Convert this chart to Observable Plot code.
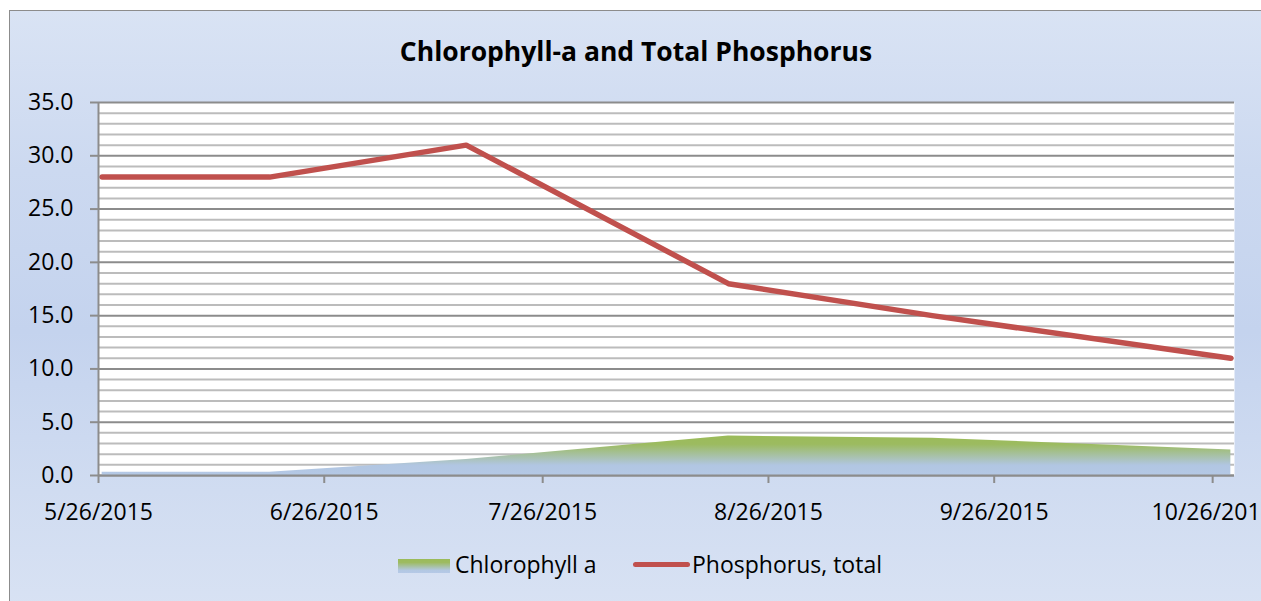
<!DOCTYPE html>
<html>
<head>
<meta charset="utf-8">
<script src="https://cdn.jsdelivr.net/npm/d3@7"></script>
<script src="https://cdn.jsdelivr.net/npm/@observablehq/plot@0.6"></script>
<style>
  html, body { margin: 0; padding: 0; width: 1261px; height: 601px; overflow: hidden; background: #ffffff; }
  body { font-family: "Open Sans", sans-serif; color: #000; position: relative; }
  #bg { position: absolute; left: 9px; top: 10px; width: 1300px; height: 640px;
        border-left: 1.5px solid #8c8c8c; border-top: 1.5px solid #8c8c8c;
        background: linear-gradient(to bottom, #d9e3f4 0%, #ccd9f0 25%, #c4d3ee 50%, #d0dcf1 75%, #dbe4f4 100%); }
  #title { position: absolute; left: 0; width: 1272px; top: 32px; text-align: center;
           font-weight: 700; font-size: 26.5px; line-height: 38px; }
  #plot { position: absolute; left: 0; top: 80px; }
  #plot svg { overflow: visible; }
  #plot g[aria-label="x-axis tick"] path, #plot g[aria-label="y-axis tick"] path,
  #plot g[aria-label="x-axis"] line, #plot g[aria-label="y-axis"] line { stroke: #8c8c8c; stroke-width: 2; }
  .leg { position: absolute; font-size: 23px; line-height: 30px; white-space: nowrap; }
  #sw1 { position: absolute; left: 398px; top: 559px; width: 52px; height: 14px;
         background: linear-gradient(to bottom, #9bbb59 0%, #9dbb62 25%, #b2c7e2 80%, #b5c9e6 100%); }
  #sw2 { position: absolute; left: 633px; top: 562px; width: 57px; height: 5px; border-radius: 3px; background: #c0504d; }
</style>
</head>
<body>
<div id="bg"></div>
<div id="title">Chlorophyll-a and Total Phosphorus</div>
<div id="plot"></div>
<div id="sw1"></div>
<div class="leg" id="lt1" style="left:455px; top:549px;">Chlorophyll a</div>
<div id="sw2"></div>
<div class="leg" id="lt2" style="left:692px; top:549px;">Phosphorus, total</div>
<script>
// ---- data ----
const sampleDates = ["2015-05-26", "2015-06-18", "2015-07-15", "2015-08-20", "2015-09-17", "2015-10-28"];
const phosphorusTotal = [28, 28, 31, 18, 15, 11];
const chlorophyllA = [0.3, 0.3, 1.5, 3.7, 3.5, 2.4];
const xTickDates = ["2015-05-26", "2015-06-26", "2015-07-26", "2015-08-26", "2015-09-26", "2015-10-26"];
const yTicks = [0, 5, 10, 15, 20, 25, 30, 35];
const yMinorTicks = d3.range(0, 36, 1).filter(v => v % 5 !== 0);
const xDomain = ["2015-05-26T00:00Z", "2015-10-29T00:00Z"];

// Excel date axis places each day's point in the middle of the day slot
const toSlot = s => new Date(s + "T12:00:00Z");
const chlData = sampleDates.map((d, i) => ({ date: toSlot(d), value: chlorophyllA[i] }));
const phosData = sampleDates.map((d, i) => ({ date: toSlot(d), value: phosphorusTotal[i] }));
const xTicks = xTickDates.map(d => new Date(d + "T00:00:00Z"));

const chart = Plot.plot({
  width: 1261,
  height: 450,
  marginTop: 22,
  marginBottom: 55,
  marginLeft: 98,
  marginRight: 27,
  style: { background: "transparent", fontFamily: "Open Sans, sans-serif", fontSize: "23px", color: "#000", overflow: "visible" },
  x: {
    type: "utc",
    domain: xDomain.map(d => new Date(d)),
    ticks: xTicks,
    tickFormat: d3.utcFormat("%-m/%-d/%Y"),
    tickSize: 8,
    tickPadding: 20,
    label: null
  },
  y: {
    domain: [0, 35],
    ticks: yTicks,
    tickFormat: d3.format(".1f"),
    tickSize: 8,
    tickPadding: 17,
    label: null
  },
  marks: [
    Plot.frame({ fill: "#ffffff", stroke: null }),
    Plot.ruleY(yMinorTicks, { stroke: "#bcbcbc", strokeWidth: 2 }),
    Plot.ruleY(yTicks, { stroke: "#8c8c8c", strokeWidth: 2 }),
    Plot.areaY(chlData, { x: "date", y: "value", fill: "url(#chlGrad)" }),
    Plot.lineY(phosData, { x: "date", y: "value", stroke: "#c0504d", strokeWidth: 5.5, strokeLinejoin: "round", strokeLinecap: "round" }),
    Plot.ruleX([new Date(xDomain[0])], { stroke: "#8c8c8c", strokeWidth: 2 }),
    Plot.ruleY([0], { stroke: "#8c8c8c", strokeWidth: 2 })
  ]
});

// gradient definition for the chlorophyll area
const ns = "http://www.w3.org/2000/svg";
const defs = document.createElementNS(ns, "defs");
const grad = document.createElementNS(ns, "linearGradient");
grad.setAttribute("id", "chlGrad");
grad.setAttribute("x1", "0"); grad.setAttribute("y1", "0");
grad.setAttribute("x2", "0"); grad.setAttribute("y2", "1");
[["0%", "#9bbb59"], ["22%", "#9cbb60"], ["75%", "#b1c6e2"], ["100%", "#b4c8e5"]].forEach(([o, c]) => {
  const s = document.createElementNS(ns, "stop");
  s.setAttribute("offset", o);
  s.setAttribute("stop-color", c);
  grad.appendChild(s);
});
defs.appendChild(grad);
const svgEl = chart.tagName.toLowerCase() === "svg" ? chart : chart.querySelector("svg");
svgEl.insertBefore(defs, svgEl.firstChild);

document.getElementById("plot").appendChild(chart);
</script>
</body>
</html>
